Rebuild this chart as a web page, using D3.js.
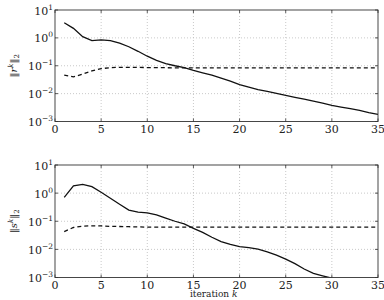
<!DOCTYPE html>
<html>
<head>
<meta charset="utf-8">
<script src="https://cdn.jsdelivr.net/npm/d3@7"></script>
<style>
  html, body { margin: 0; padding: 0; background: #fff; }
  svg { display: block; }
</style>
</head>
<body>
<svg id="chart" width="384" height="300"></svg>
<script>
const iterations = d3.range(1, 36);

// ||r^k||_2
const rSolid = [3.5, 2.2, 1.1, 0.8, 0.85, 0.8, 0.65, 0.48, 0.33, 0.22,
  0.155, 0.12, 0.1, 0.085, 0.068, 0.056, 0.046, 0.036, 0.028, 0.021,
  0.017, 0.014, 0.012, 0.0102, 0.0086, 0.0074, 0.0063, 0.0054, 0.0046, 0.0038,
  0.0033, 0.0029, 0.0025, 0.0021, 0.0018];
const rDashed = [0.046, 0.04, 0.05, 0.065, 0.079, 0.085, 0.088, 0.088, 0.087, 0.086,
  0.085, 0.085, 0.084, 0.084, 0.084, 0.084, 0.084, 0.084, 0.084, 0.084,
  0.084, 0.084, 0.084, 0.084, 0.084, 0.084, 0.084, 0.084, 0.084, 0.084,
  0.084, 0.084, 0.084, 0.084, 0.084];

// ||s^k||_2
const sSolid = [0.71, 1.8, 2.05, 1.7, 1.07, 0.66, 0.4, 0.25, 0.21, 0.2,
  0.17, 0.13, 0.1, 0.08, 0.056, 0.04, 0.027, 0.019, 0.015, 0.0125,
  0.0115, 0.0102, 0.0082, 0.0062, 0.0045, 0.0031, 0.002, 0.0014, 0.00115, 0.00095,
  0.0008, 0.0007, 0.0006, 0.0005, 0.00045];
const sDashed = [0.043, 0.06, 0.067, 0.069, 0.068, 0.066, 0.065, 0.064, 0.063, 0.062,
  0.062, 0.062, 0.062, 0.062, 0.062, 0.062, 0.062, 0.062, 0.062, 0.062,
  0.062, 0.062, 0.062, 0.062, 0.062, 0.062, 0.062, 0.062, 0.062, 0.062,
  0.062, 0.062, 0.062, 0.062, 0.062];

const xTicks = [0, 5, 10, 15, 20, 25, 30, 35];
const yExponents = [-3, -2, -1, 0, 1];

const FONT = '"DejaVu Serif", "Liberation Serif", serif';
const svg = d3.select('#chart');
const left = 55, right = 378;
const x = d3.scaleLinear().domain([0, 35]).range([left, right]);

function panel(id, top, bottom, solid, dashed, labelVar) {
  const y = d3.scaleLog().domain([1e-3, 10]).range([bottom, top]);
  const g = svg.append('g').attr('font-family', FONT).attr('fill', '#222');

  g.append('clipPath').attr('id', 'clip-' + id)
    .append('rect').attr('x', left).attr('y', top)
    .attr('width', right - left).attr('height', bottom - top);

  // grid
  g.selectAll('.gx').data(xTicks.slice(1, -1)).enter().append('line')
    .attr('x1', d => x(d)).attr('x2', d => x(d))
    .attr('y1', top).attr('y2', bottom)
    .attr('stroke', '#bbb').attr('stroke-width', 0.8).attr('stroke-dasharray', '1,2');
  g.selectAll('.gy').data(yExponents.slice(1, -1)).enter().append('line')
    .attr('x1', left).attr('x2', right)
    .attr('y1', d => y(Math.pow(10, d))).attr('y2', d => y(Math.pow(10, d)))
    .attr('stroke', '#bbb').attr('stroke-width', 0.8).attr('stroke-dasharray', '1,2');

  // ticks (inward, both sides)
  xTicks.forEach(t => {
    g.append('line').attr('x1', x(t)).attr('x2', x(t)).attr('y1', bottom).attr('y2', bottom - 3)
      .attr('stroke', '#333').attr('stroke-width', 0.8);
    g.append('line').attr('x1', x(t)).attr('x2', x(t)).attr('y1', top).attr('y2', top + 3)
      .attr('stroke', '#333').attr('stroke-width', 0.8);
    g.append('text').attr('x', x(t)).attr('y', bottom + 11)
      .attr('text-anchor', 'middle').attr('font-size', 11).text(t);
  });
  yExponents.forEach(e => {
    const yy = y(Math.pow(10, e));
    g.append('line').attr('x1', left).attr('x2', left + 3).attr('y1', yy).attr('y2', yy)
      .attr('stroke', '#333').attr('stroke-width', 0.8);
    g.append('line').attr('x1', right).attr('x2', right - 3).attr('y1', yy).attr('y2', yy)
      .attr('stroke', '#333').attr('stroke-width', 0.8);
    const t = g.append('text').attr('x', left - 2).attr('y', yy + 4.5)
      .attr('text-anchor', 'end').attr('font-size', 11);
    t.append('tspan').text('10');
    t.append('tspan').attr('dy', -5).attr('font-size', 7.5)
      .text(e < 0 ? '\u2212' + (-e) : e);
  });

  const line = d3.line().x((d, i) => x(iterations[i])).y(d => y(d));
  g.append('path').datum(dashed).attr('d', line).attr('clip-path', `url(#clip-${id})`)
    .attr('fill', 'none').attr('stroke', '#111').attr('stroke-width', 1.3)
    .attr('stroke-dasharray', '4,3');
  g.append('path').datum(solid).attr('d', line).attr('clip-path', `url(#clip-${id})`)
    .attr('fill', 'none').attr('stroke', '#111').attr('stroke-width', 1.3);

  g.append('rect').attr('x', left).attr('y', top)
    .attr('width', right - left).attr('height', bottom - top)
    .attr('fill', 'none').attr('stroke', '#333').attr('stroke-width', 0.9);

  // y label
  const lab = g.append('text')
    .attr('transform', `translate(17,${(top + bottom) / 2}) rotate(-90)`)
    .attr('text-anchor', 'middle').attr('font-size', 10);
  lab.append('tspan').text('\u2016');
  lab.append('tspan').attr('font-style', 'italic').text(labelVar);
  lab.append('tspan').attr('dy', -4).attr('font-size', 7).attr('font-style', 'italic').text('k');
  lab.append('tspan').attr('dy', 4).text('\u2016');
  lab.append('tspan').attr('dy', 2).attr('font-size', 7).text('2');
}

panel('r', 10, 121.5, rSolid, rDashed, 'r');
panel('s', 165, 277.5, sSolid, sDashed, 's');

const xl = svg.append('text').attr('x', x(17.2)).attr('y', 297.3)
  .attr('font-family', FONT).attr('fill', '#222')
  .attr('text-anchor', 'middle').attr('font-size', 9);
xl.append('tspan').text('iteration ');
xl.append('tspan').attr('font-style', 'italic').text('k');
</script>
</body>
</html>
